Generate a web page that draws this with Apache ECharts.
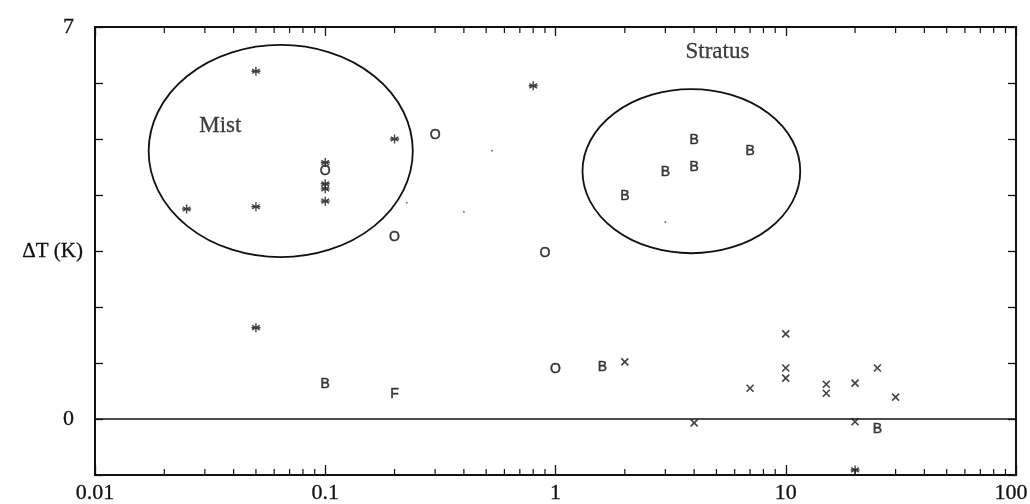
<!DOCTYPE html>
<html><head><meta charset="utf-8">
<script src="https://cdn.jsdelivr.net/npm/echarts@6/dist/echarts.min.js"></script>
<style>html,body{margin:0;padding:0;background:#fff}#c{width:1030px;height:504px}</style>
</head><body><div id="c"></div>
<script>
// ---- data ----
const xTickLabels = ['0.01', '0.1', '1', '10', '100'];
const yTickLabels = ['0', '7'];
const asteriskPts = [[0.05,6.21],[0.025,3.75],[0.05,3.79],[0.1,4.58],[0.1,4.20],[0.1,4.11],[0.1,3.89],[0.2,5.0],[0.8,5.95],[0.05,1.63],[20,-0.91]];
const circlePts = [[0.1,4.43],[0.3,5.07],[0.2,3.25],[0.9,2.96],[1.0,0.89]];
const bPts = [[2,3.98],[3,4.41],[4,4.98],[4,4.5],[7,4.79],[0.1,0.62],[1.6,0.93],[25,-0.18]];
const fPts = [[0.2,0.44]];
const crossPts = [[2,1.02],[4,-0.07],[7,0.55],[10,1.52],[10,0.91],[10,0.73],[15,0.62],[15,0.46],[20,0.64],[25,0.91],[30,0.39],[20,-0.05]];
const dotPts = [[0.226,3.86],[0.53,4.79],[0.4,3.70],[3,3.52]];
const regionNames = ['Mist', 'Stratus'];
const regionExtents = [[0.0171,0.240,2.89,6.68],[1.31,11.56,2.96,5.89]]; // xmin,xmax,ymin,ymax
const regionLabelPos = [[0.035,5.23],[5.05,6.55]];
const minorTickValues = [0.02,0.03,0.04,0.05,0.06,0.07,0.08,0.09,
  0.2,0.3,0.4,0.5,0.6,0.7,0.8,0.9, 2,3,4,5,6,7,8,9, 20,30,40,50,60,70,80,90];

const X_MIN = 0.01, X_MAX = 100, Y_MIN = -1, Y_MAX = 7;
const INK = '#111';
const SERIF = '"Liberation Serif", "DejaVu Serif", serif';
const SANS = '"Liberation Sans", "DejaVu Sans", sans-serif';

const chart = echarts.init(document.getElementById('c'));

function xLabel(v) {
  const lg = Math.round(Math.log10(v));
  const idx = lg + 2;
  const s = xTickLabels[idx] !== undefined ? xTickLabels[idx] : '';
  return idx === xTickLabels.length - 1 ? '{last|' + s + '}' : s;
}
function yLabel(v) {
  const s = String(Math.round(v));
  return yTickLabels.indexOf(s) >= 0 ? s : '';
}

const asteriskPath = 'path://M5,0L5,10M0.7,2.5L9.3,7.5M0.7,7.5L9.3,2.5M0,5L10,5';
const crossPath = 'path://M0,0L10,10M0,10L10,0';

function letterSeries(name, pts, ch) {
  return {
    name, type: 'scatter', data: pts, symbol: 'circle', symbolSize: 1,
    itemStyle: { color: 'rgba(0,0,0,0)' },
    label: { show: true, position: 'inside', formatter: ch, color: INK,
      fontFamily: SANS, fontSize: 14, fontWeight: 'normal',
      textBorderColor: INK, textBorderWidth: 0.5 },
    silent: true, z: 5
  };
}

const tickFont = { color: INK, fontFamily: SERIF, fontSize: 22, textBorderColor: INK, textBorderWidth: 0.3 };

const option = {
  backgroundColor: '#fff',
  animation: false,
  grid: { left: 95, right: 14, top: 27, bottom: 29, outerBoundsMode: 'none', containLabel: false,
    show: true, borderColor: INK, borderWidth: 1.8, backgroundColor: 'transparent' },
  xAxis: [{
    type: 'log', logBase: 10, min: X_MIN, max: X_MAX, position: 'bottom',
    axisLine: { show: true, onZero: false, lineStyle: { color: INK, width: 1.8 } },
    axisTick: { show: true, inside: true, length: 10, lineStyle: { color: INK, width: 1.3 } },
    axisLabel: Object.assign({ show: true, formatter: xLabel, margin: 7,
      rich: { last: Object.assign({ padding: [0, 10, 0, 0] }, tickFont) } }, tickFont),
    splitLine: { show: false }
  }, {
    type: 'log', logBase: 10, min: X_MIN, max: X_MAX, position: 'top',
    axisLine: { show: true, onZero: false, lineStyle: { color: INK, width: 1.8 } },
    axisTick: { show: true, inside: true, length: 9, lineStyle: { color: INK, width: 1.3 } },
    axisLabel: { show: false }, splitLine: { show: false }
  }],
  yAxis: [{
    type: 'value', min: Y_MIN, max: Y_MAX, interval: 1, position: 'left',
    name: 'ΔT (K)', nameLocation: 'middle', nameRotate: 0, nameGap: 12, nameMoveOverlap: false,
    nameTextStyle: { color: INK, fontFamily: SERIF, fontSize: 21, textBorderColor: INK, textBorderWidth: 0.3 },
    axisLine: { show: true, onZero: false, lineStyle: { color: INK, width: 1.8 } },
    axisTick: { show: true, inside: true, length: 8, lineStyle: { color: INK, width: 1.3 } },
    axisLabel: Object.assign({ show: true, formatter: yLabel, margin: 21 }, tickFont),
    splitLine: { show: false }
  }, {
    type: 'value', min: Y_MIN, max: Y_MAX, interval: 1, position: 'right',
    axisLine: { show: true, onZero: false, lineStyle: { color: INK, width: 1.8 } },
    axisTick: { show: true, inside: true, length: 8, lineStyle: { color: INK, width: 1.3 } },
    axisLabel: { show: false }, splitLine: { show: false }
  }],
  series: [
    {
      name: 'minorTicks', type: 'custom', silent: true, clip: false, z: 3,
      data: minorTickValues.map(v => [v]),
      renderItem: function (params, api) {
        const b = api.coord([api.value(0), Y_MIN]);
        const t = api.coord([api.value(0), Y_MAX]);
        const st = { stroke: INK, lineWidth: 1.2 };
        return { type: 'group', children: [
          { type: 'line', shape: { x1: b[0], y1: b[1], x2: b[0], y2: b[1] - 6 }, style: st },
          { type: 'line', shape: { x1: t[0], y1: t[1], x2: t[0], y2: t[1] + 6 }, style: st }
        ]};
      }
    },
    {
      name: 'regions', type: 'custom', silent: true, z: 3,
      data: regionExtents,
      renderItem: function (params, api) {
        const p1 = api.coord([api.value(0), api.value(3)]);
        const p2 = api.coord([api.value(1), api.value(2)]);
        const x = p1[0], y = p1[1], w = p2[0] - p1[0], h = p2[1] - p1[1];
        const rx = w / 2, ry = h / 2, cx = x + rx, cy = y + ry;
        const d = 'M' + (cx - rx) + ',' + cy + ' A' + rx + ',' + ry + ' 0 1 0 ' + (cx + rx) + ',' + cy +
                  ' A' + rx + ',' + ry + ' 0 1 0 ' + (cx - rx) + ',' + cy + ' Z';
        return { type: 'path', shape: { pathData: d, x: x, y: y, width: w, height: h, layout: 'cover' },
          style: { fill: 'none', stroke: INK, lineWidth: 1.8 } };
      }
    },
    {
      name: 'regionLabels', type: 'scatter', silent: true, symbolSize: 1,
      itemStyle: { color: 'rgba(0,0,0,0)' },
      data: regionLabelPos.map((p, i) => ({ value: p, name: regionNames[i] })),
      label: { show: true, position: 'inside', formatter: '{b}', color: INK, fontFamily: SERIF, fontSize: 23,
        textBorderColor: INK, textBorderWidth: 0.3 }
    },
    {
      name: 'asterisk', type: 'scatter', data: asteriskPts, symbol: asteriskPath, symbolSize: 9,
      itemStyle: { color: 'rgba(0,0,0,0)', borderColor: INK, borderWidth: 1.4 }, silent: true, z: 5
    },
    {
      name: 'cross', type: 'scatter', data: crossPts, symbol: crossPath, symbolSize: 7,
      itemStyle: { color: 'rgba(0,0,0,0)', borderColor: INK, borderWidth: 1.6 }, silent: true, z: 5,
      markLine: {
        silent: true, symbol: ['none', 'none'], label: { show: false },
        lineStyle: { color: INK, width: 1.7, type: 'solid' },
        data: [{ yAxis: 0 }]
      }
    },
    letterSeries('O', circlePts, 'O'),
    letterSeries('B', bPts, 'B'),
    letterSeries('F', fPts, 'F'),
    {
      name: 'dot', type: 'scatter', data: dotPts, symbol: 'circle', symbolSize: 2,
      itemStyle: { color: '#555' }, silent: true
    }
  ]
};
chart.setOption(option);
</script>
</body></html>
